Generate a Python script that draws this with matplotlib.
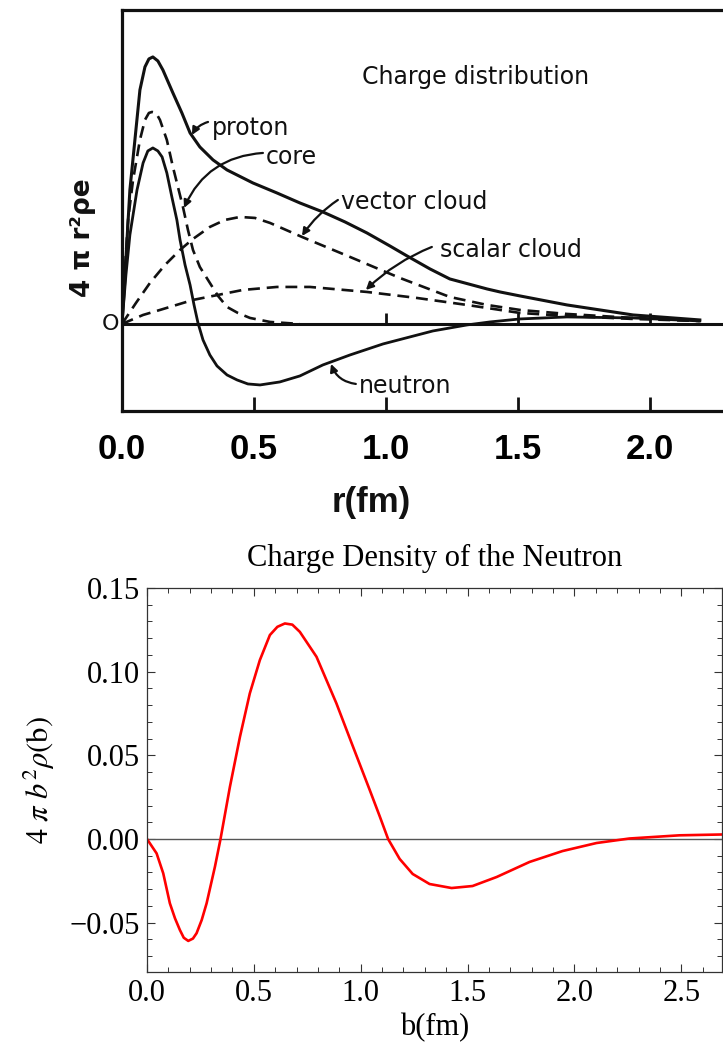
import numpy as np
import matplotlib
matplotlib.use("Agg")
import matplotlib.pyplot as plt
from matplotlib.ticker import MultipleLocator, FuncFormatter

# ---- top panel: charge distribution (arbitrary units)
proton_r = [0.0, 0.011, 0.019, 0.030, 0.049, 0.068, 0.087, 0.102, 0.117, 0.136, 0.155, 0.193,
            0.227, 0.258, 0.295, 0.345, 0.398, 0.496, 0.587, 0.674, 0.761, 0.845, 0.928,
            1.015, 1.080, 1.167, 1.242, 1.383, 1.432, 1.508, 1.686, 1.936, 2.189]
proton_y = [0.0, 0.44, 0.84, 1.34, 1.84, 2.34, 2.57, 2.65, 2.67, 2.63, 2.54, 2.31,
            2.11, 1.91, 1.77, 1.64, 1.54, 1.41, 1.31, 1.21, 1.12, 1.02, 0.91,
            0.78, 0.68, 0.55, 0.45, 0.35, 0.32, 0.28, 0.19, 0.09, 0.04]

core_r = [0.0, 0.011, 0.023, 0.042, 0.068, 0.087, 0.102, 0.114, 0.129, 0.144, 0.170, 0.193,
          0.212, 0.231, 0.250, 0.269, 0.295, 0.333, 0.364, 0.398, 0.439, 0.485, 0.561, 0.674]
core_y = [0.0, 0.54, 1.04, 1.44, 1.84, 2.04, 2.11, 2.12, 2.11, 2.04, 1.84, 1.57,
          1.37, 1.17, 0.94, 0.74, 0.57, 0.41, 0.28, 0.17, 0.11, 0.06, 0.02, 0.0]

neutron_r = [0.0, 0.015, 0.030, 0.057, 0.080, 0.098, 0.117, 0.136, 0.152, 0.170, 0.189, 0.208,
             0.220, 0.239, 0.258, 0.273, 0.288, 0.307, 0.333, 0.360, 0.398, 0.436, 0.477,
             0.523, 0.598, 0.674, 0.761, 0.864, 0.989, 1.178, 1.307, 1.394, 1.508, 1.686,
             1.936, 2.189]
neutron_y = [0.0, 0.49, 0.89, 1.34, 1.61, 1.73, 1.76, 1.73, 1.67, 1.51, 1.27, 1.04,
             0.84, 0.59, 0.39, 0.19, 0.01, -0.16, -0.31, -0.42, -0.51, -0.56, -0.60,
             -0.61, -0.58, -0.52, -0.41, -0.31, -0.20, -0.07, -0.01, 0.02, 0.05, 0.07,
             0.06, 0.03]

vector_r = [0.0, 0.053, 0.106, 0.163, 0.220, 0.269, 0.333, 0.390, 0.447, 0.504, 0.561, 0.682,
            0.864, 1.053, 1.242, 1.383, 1.508, 1.686, 1.936, 2.189]
vector_y = [0.0, 0.21, 0.41, 0.59, 0.74, 0.85, 0.97, 1.04, 1.07, 1.06, 1.01, 0.87,
            0.67, 0.46, 0.27, 0.19, 0.14, 0.10, 0.06, 0.03]

scalar_r = [0.0, 0.080, 0.144, 0.269, 0.458, 0.587, 0.712, 0.928, 1.117, 1.307, 1.508,
            1.686, 1.936, 2.189]
scalar_y = [0.0, 0.09, 0.14, 0.24, 0.34, 0.37, 0.37, 0.32, 0.26, 0.19, 0.11,
            0.08, 0.05, 0.03]

top_ticks = [0.0, 0.5, 1.0, 1.5, 2.0]
top_ticklabels = ['0.0', '0.5', '1.0', '1.5', '2.0']
zero_marks = [1.0, 1.5, 2.0]

# ---- bottom panel: transverse charge density of the neutron
b_fm = [0.0, 0.045, 0.076, 0.107, 0.131, 0.154, 0.172, 0.193, 0.215, 0.232, 0.256, 0.279,
        0.318, 0.344, 0.388, 0.435, 0.481, 0.528, 0.575, 0.610, 0.645, 0.680, 0.715,
        0.793, 0.886, 0.964, 1.042, 1.089, 1.128, 1.182, 1.243, 1.322, 1.425, 1.523,
        1.636, 1.790, 1.944, 2.103, 2.257, 2.491, 2.69]
rho_b = [0.0, -0.0086, -0.0205, -0.0384, -0.0474, -0.0544, -0.0590, -0.0609, -0.0595,
         -0.0563, -0.0484, -0.0384, -0.0165, 0.0, 0.0312, 0.0611, 0.0870, 0.1069, 0.1219,
         0.1268, 0.1288, 0.1281, 0.1238, 0.1089, 0.0811, 0.0551, 0.0293, 0.0135, 0.0,
         -0.0119, -0.0209, -0.0269, -0.0293, -0.0281, -0.0227, -0.0137, -0.0072, -0.0024,
         0.0003, 0.0022, 0.0027]

ink = '#111111'
fig = plt.figure(figsize=(7.23, 10.47), dpi=100)

# ================= top =================
ax1 = fig.add_axes([0.1687, 0.6075, 0.8313, 0.383])
ax1.set_xlim(0, 2.277)
ax1.set_ylim(-0.87, 3.14)
for s in ['left', 'top', 'bottom']:
    ax1.spines[s].set_linewidth(2.3)
    ax1.spines[s].set_color(ink)
ax1.spines['right'].set_visible(False)

ax1.axhline(0, color=ink, lw=2.2)
ax1.plot(proton_r, proton_y, color=ink, lw=2.2, solid_joinstyle='round')
ax1.plot(neutron_r, neutron_y, color=ink, lw=2.0, solid_joinstyle='round')
dash = (0, (4.5, 2.6))
ax1.plot(core_r, core_y, color=ink, lw=1.9, linestyle=dash)
ax1.plot(vector_r, vector_y, color=ink, lw=1.9, linestyle=dash)
ax1.plot(scalar_r, scalar_y, color=ink, lw=1.9, linestyle=dash)
ax1.vlines(zero_marks, 0, 0.11, color=ink, lw=2)

ax1.set_yticks([])
ax1.set_xticks(top_ticks)
ax1.set_xticklabels(top_ticklabels, family='Liberation Sans', fontweight='bold', fontsize=25)
ax1.tick_params(axis='x', direction='in', length=10, width=2, pad=16, color=ink)

lab = dict(fontsize=17, va='center', ha='left', color=ink, family='DejaVu Sans')
ax1.text(0.909, 2.47, 'Charge distribution', **lab)
ax1.text(0.341, 1.96, 'proton', **lab)
ax1.text(0.545, 1.67, 'core', **lab)
ax1.text(0.830, 1.22, 'vector cloud', **lab)
ax1.text(1.205, 0.74, 'scalar cloud', **lab)
ax1.text(0.898, -0.62, 'neutron', **lab)
ax1.text(-0.045, 0.0, 'O', fontsize=16, va='center', ha='center', color=ink, clip_on=False)

def leader(start, end, rad):
    ax1.annotate('', xy=end, xytext=start,
                 arrowprops=dict(arrowstyle='-|>', lw=1.6, color=ink, mutation_scale=11,
                                 shrinkA=0, shrinkB=0,
                                 connectionstyle='arc3,rad=%s' % rad))

leader((0.326, 2.02), (0.265, 1.89), 0.2)
leader((0.534, 1.71), (0.235, 1.16), 0.3)
leader((0.818, 1.24), (0.682, 0.88), 0.1)
leader((1.174, 0.77), (0.924, 0.34), 0.1)
leader((0.886, -0.60), (0.792, -0.40), -0.3)

fig.text(83 / 723, 1 - 238 / 1047, '4 π r²ρe', rotation=90, fontsize=19, fontweight='bold',
         ha='center', va='center', color=ink, family='DejaVu Sans')
fig.text(371 / 723, 1 - 502 / 1047, 'r(fm)', fontsize=25, fontweight='bold',
         ha='center', va='center', family='Liberation Sans', color=ink)

# ================= bottom =================
plt.rcParams['mathtext.fontset'] = 'stix'
serif = 'Liberation Serif'
ax2 = fig.add_axes([0.2033, 0.0716, 0.7953, 0.3668])
ax2.set_xlim(0, 2.69)
ax2.set_ylim(-0.0795, 0.15)
ax2.axhline(0, color='#555555', lw=1.0)
ax2.plot(b_fm, rho_b, color='red', lw=1.9, solid_joinstyle='round', solid_capstyle='round')

ax2.xaxis.set_major_locator(MultipleLocator(0.5))
ax2.xaxis.set_minor_locator(MultipleLocator(0.1))
ax2.yaxis.set_major_locator(MultipleLocator(0.05))
ax2.yaxis.set_minor_locator(MultipleLocator(0.01))
ax2.xaxis.set_major_formatter(FuncFormatter(lambda v, p: '%.1f' % v))
ax2.yaxis.set_major_formatter(
    FuncFormatter(lambda v, p: ('%.2f' % (0.0 if abs(v) < 1e-9 else v)).replace('-', '\u2212')))
ax2.tick_params(which='both', direction='in', top=True, right=True, color='#333333',
                labelsize=22, pad=5)
ax2.tick_params(which='major', length=6, width=0.8)
ax2.tick_params(which='minor', length=3.5, width=0.7)
for t in ax2.get_xticklabels() + ax2.get_yticklabels():
    t.set_family(serif)
for s in ax2.spines.values():
    s.set_linewidth(0.9)
    s.set_color('#333333')

fig.text(435 / 723, 1 - 566 / 1047, 'Charge Density of the Neutron', family=serif,
         fontsize=22, ha='center', va='baseline')
fig.text(435 / 723, 1 - 1028 / 1047, 'b(fm)', family=serif, fontsize=22,
         ha='center', va='center')
fig.text(39 / 723, 1 - 780 / 1047, r'$4\ \pi\ b^{2}\rho(\mathrm{b})$', fontsize=22,
         rotation=90, ha='center', va='center')

fig.savefig('out.png', dpi=100)
